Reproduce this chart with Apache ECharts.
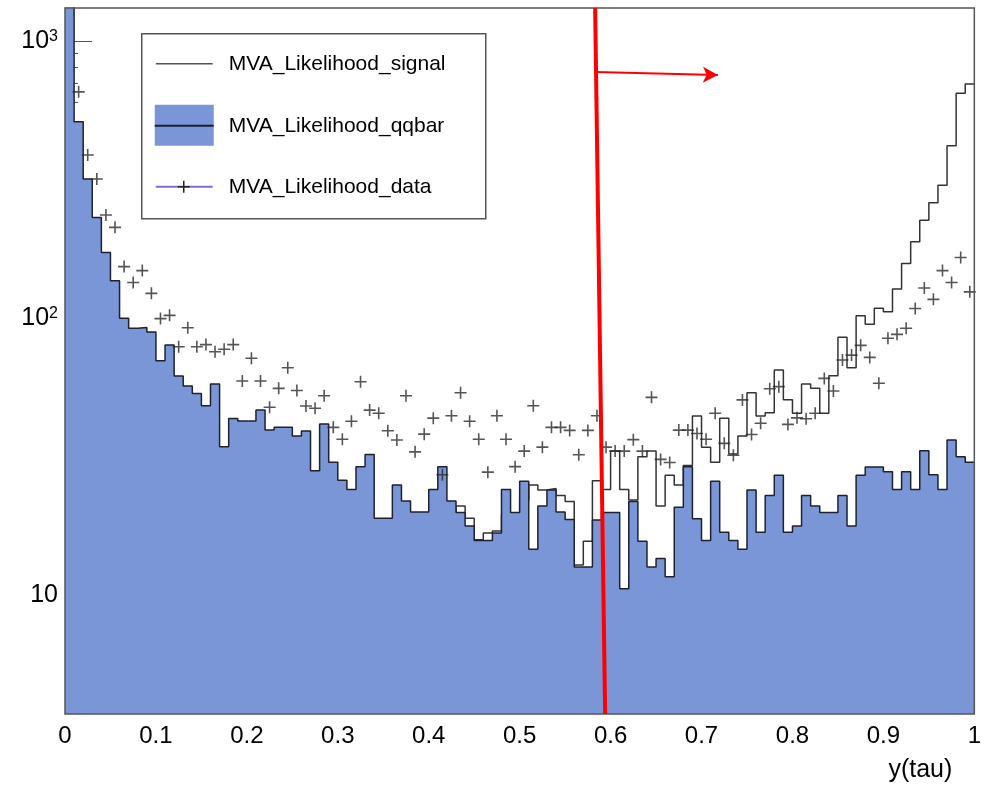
<!DOCTYPE html>
<html>
<head>
<meta charset="utf-8">
<script src="https://cdn.jsdelivr.net/npm/echarts@6/dist/echarts.min.js"></script>
<style>
  html, body { margin: 0; padding: 0; background: #fff; }
  #chart { width: 984px; height: 788px; }
</style>
</head>
<body>
<div id="chart"></div>
<script>
// 100 bins of y(tau) between 0 and 1
var xLo = 0, xHi = 1;

var qqbar = [
  1500, 510, 317, 230, 172, 136, 99.5, 91.6, 92.3, 88.9,
  70, 79.7, 61.6, 56.7, 53.3, 48.1, 57.7, 34.2, 43.3, 42.4,
  42.4, 46.4, 39.3, 40.2, 40.2, 37.4, 39.0, 28.0, 41.3, 30.1,
  25.9, 24.0, 29.0, 32.1, 18.9, 18.9, 24.9, 21.8, 19.9, 19.9,
  24.0, 29.0, 21.8, 19.8, 17.7, 15.7, 15.7, 16.7, 24.0, 19.8,
  25.7, 14.6, 20.9, 23.9, 19.9, 18.7, 12.6, 12.6, 18.6, 19.8,
  19.8, 10.5, 21.7, 15.6, 12.6, 13.5, 11.6, 20.7, 29.0, 18.8,
  15.7, 25.7, 16.8, 15.7, 14.6, 23.9, 16.8, 22.8, 27.0, 16.8,
  17.7, 22.8, 20.9, 19.8, 19.8, 22.8, 17.7, 27.0, 28.9, 28.9,
  27.8, 24.0, 27.8, 24.0, 33.1, 27.1, 24.0, 36.2, 31.5, 30.1
];

var signal = [
  16, 15, 15, 14, 14, 14, 13, 13, 13, 13,
  13, 13, 13, 13, 13, 13, 13, 13, 13, 13,
  14, 14, 14, 14, 14, 15, 15, 15, 15, 16,
  16, 16, 16, 16, 16, 16, 17, 17, 17, 17,
  18, 19, 19.5, 20.9, 18.9, 15.8, 16.7, 17.0, 19.5, 19.8,
  22.0, 24.9, 23.9, 24.2, 22.8, 21.7, 12.8, 15.6, 25.8, 24.0,
  33.0, 24.0, 22.0, 31.5, 33.0, 20.9, 27.0, 24.9, 29.3, 44.2,
  34.1, 30.1, 43.4, 32.2, 37.4, 53.6, 44.2, 45.4, 64.7, 50.6,
  45.2, 57.6, 55.6, 45.2, 61.7, 85.0, 66.0, 101.7, 94.7, 108.1,
  105.1, 127, 157, 188, 225, 260, 301, 418, 646, 698
];

var data = [
  1500, 654, 387, 317, 235, 212, 153, 134, 148, 122.5,
  99.3, 102, 78.6, 92, 78.6, 80, 75.4, 77, 80, 59.1,
  71.4, 59.1, 47.5, 55.6, 66, 54.6, 48.0, 47.1, 52.3, 40.2,
  36.4, 42.3, 58.7, 46.4, 45.2, 39.1, 36.2, 52.3, 32.8, 38.0,
  43.4, 27.1, 44.3, 53.6, 42.3, 36.4, 27.7, 44.3, 36.4, 29.0,
  33.0, 48.1, 34.1, 40.2, 40.2, 39.2, 32.0, 39.2, 44.3, 34.1,
  33.0, 33.0, 36.3, 33.0, 51.6, 30.8, 30.0, 39.3, 39.3, 38.2,
  36.4, 45.2, 35.2, 31.9, 50.5, 37.9, 41.6, 55.4, 56.4, 41.2,
  43.5, 43.2, 45.2, 60.4, 54.4, 70.4, 73.3, 79.5, 71.9, 58.0,
  84.3, 87.1, 91.6, 108, 128, 116.5, 148, 134, 165, 124
];

var yMin = 3.71, yMax = 1313;
var yMajor = [10, 100, 1000];
var yMinor = [4, 5, 6, 7, 8, 9, 20, 30, 40, 50, 60, 70, 80, 90, 200, 300, 400, 500, 600, 700, 800, 900];

// red cut line and arrow
var cutLine = [[0.583, 1313], [0.594, 3.71]];
var cutArrow = [[0.583, 771], [0.718, 752]];

var blue = '#7a96d6';
var font = 'Liberation Sans, Arial, Helvetica, sans-serif';
var plus = 'path://M5.2,0h1.6v5.2h5.2v1.6h-5.2v5.2h-1.6v-5.2h-5.2v-1.6h5.2z';

// histogram outline: one point per left bin edge plus the last edge
function steps(vals) {
  var w = (xHi - xLo) / vals.length;
  var pts = vals.map(function (v, i) { return [xLo + i * w, v]; });
  pts.push([xHi, vals[vals.length - 1]]);
  return pts;
}
function centres(vals) {
  var w = (xHi - xLo) / vals.length;
  return vals.map(function (v, i) { return [xLo + (i + 0.5) * w, v]; });
}

var myChart = echarts.init(document.getElementById('chart'));

var option = {
  animation: false,
  grid: {
    left: 65, right: 7, top: 8, bottom: 74,
    show: true,
    borderColor: '#555',
    borderWidth: 1.5,
    z: 5
  },
  xAxis: {
    type: 'value',
    min: 0, max: 1, interval: 0.1,
    splitLine: { show: false },
    axisLine: { show: false },
    axisTick: { show: true, inside: true, length: 20, lineStyle: { color: '#555' } },
    axisLabel: { color: '#000', fontSize: 24, fontFamily: font, margin: 10 },
    name: 'y(tau)',
    nameLocation: 'end',
    nameGap: -22,
    nameTextStyle: {
      color: '#000', fontSize: 25, fontFamily: font,
      align: 'right', verticalAlign: 'top', padding: [44, 0, 0, 0]
    }
  },
  yAxis: [
    {
      type: 'log',
      position: 'left',
      min: yMin, max: yMax,
      splitLine: { show: false },
      axisLine: { show: false },
      axisTick: { show: true, inside: true, length: 27, customValues: yMajor, lineStyle: { color: '#555' } },
      axisLabel: {
        customValues: yMajor,
        margin: 7,
        formatter: function (v) {
          var p = Math.round(Math.log10(v));
          return p === 1 ? '{b|10}' : '{b|10}{s|' + p + '}';
        },
        rich: {
          b: { fontSize: 25, fontFamily: font, color: '#000' },
          s: { fontSize: 16, fontFamily: font, color: '#000', verticalAlign: 'top', padding: [0, 0, 4, 0] }
        }
      }
    },
    {
      type: 'log',
      position: 'left',
      offset: 0,
      min: yMin, max: yMax,
      splitLine: { show: false },
      axisLine: { show: false },
      axisLabel: { show: false },
      axisTick: { show: true, inside: true, length: 13, customValues: yMinor, lineStyle: { color: '#555' } }
    }
  ],
  series: [
    {
      name: 'MVA_Likelihood_signal',
      type: 'line',
      step: 'end',
      showSymbol: false,
      z: 2,
      lineStyle: { color: '#333', width: 1.5 },
      data: steps(signal)
    },
    {
      name: 'MVA_Likelihood_qqbar',
      type: 'line',
      step: 'end',
      showSymbol: false,
      z: 3,
      lineStyle: { color: '#1e2130', width: 1.5 },
      areaStyle: { color: blue, opacity: 1, origin: 'start' },
      data: steps(qqbar)
    },
    {
      name: 'MVA_Likelihood_data',
      type: 'scatter',
      z: 4,
      symbol: plus,
      symbolSize: 12,
      itemStyle: { color: '#2b2b2b' },
      data: centres(data),
      markLine: {
        silent: true,
        symbol: ['none', 'none'],
        label: { show: false },
        data: [
          [
            { coord: cutLine[0], lineStyle: { color: '#ff0000', width: 4, type: 'solid' } },
            { coord: cutLine[1] }
          ],
          [
            { coord: cutArrow[0], lineStyle: { color: '#ff0000', width: 2, type: 'solid' } },
            { coord: cutArrow[1], symbol: 'arrow', symbolSize: [12, 15] }
          ]
        ]
      }
    }
  ],
  graphic: [
    {
      type: 'group',
      left: 141, top: 33,
      z: 10,
      children: [
        { type: 'rect', shape: { x: 0, y: 0, width: 344, height: 185 },
          style: { fill: '#fff', stroke: '#555', lineWidth: 1.5 } },
        // signal
        { type: 'line', shape: { x1: 14, y1: 30, x2: 71, y2: 30 }, style: { stroke: '#555', lineWidth: 1.5 } },
        { type: 'text', x: 87, y: 30, style: { text: 'MVA_Likelihood_signal', font: '21px ' + font, fill: '#000', verticalAlign: 'middle' } },
        // qqbar
        { type: 'rect', shape: { x: 13, y: 71, width: 59, height: 41 }, style: { fill: blue } },
        { type: 'line', shape: { x1: 13, y1: 92, x2: 72, y2: 92 }, style: { stroke: '#1e2130', lineWidth: 2 } },
        { type: 'text', x: 87, y: 92, style: { text: 'MVA_Likelihood_qqbar', font: '21px ' + font, fill: '#000', verticalAlign: 'middle' } },
        // data
        { type: 'line', shape: { x1: 14, y1: 153, x2: 71, y2: 153 }, style: { stroke: '#7b6fdc', lineWidth: 2 } },
        { type: 'line', shape: { x1: 36, y1: 153, x2: 48, y2: 153 }, style: { stroke: '#222', lineWidth: 1.5 } },
        { type: 'line', shape: { x1: 42, y1: 147, x2: 42, y2: 159 }, style: { stroke: '#222', lineWidth: 1.5 } },
        { type: 'text', x: 87, y: 153, style: { text: 'MVA_Likelihood_data', font: '21px ' + font, fill: '#000', verticalAlign: 'middle' } }
      ]
    }
  ]
};

myChart.setOption(option);
</script>
</body>
</html>
